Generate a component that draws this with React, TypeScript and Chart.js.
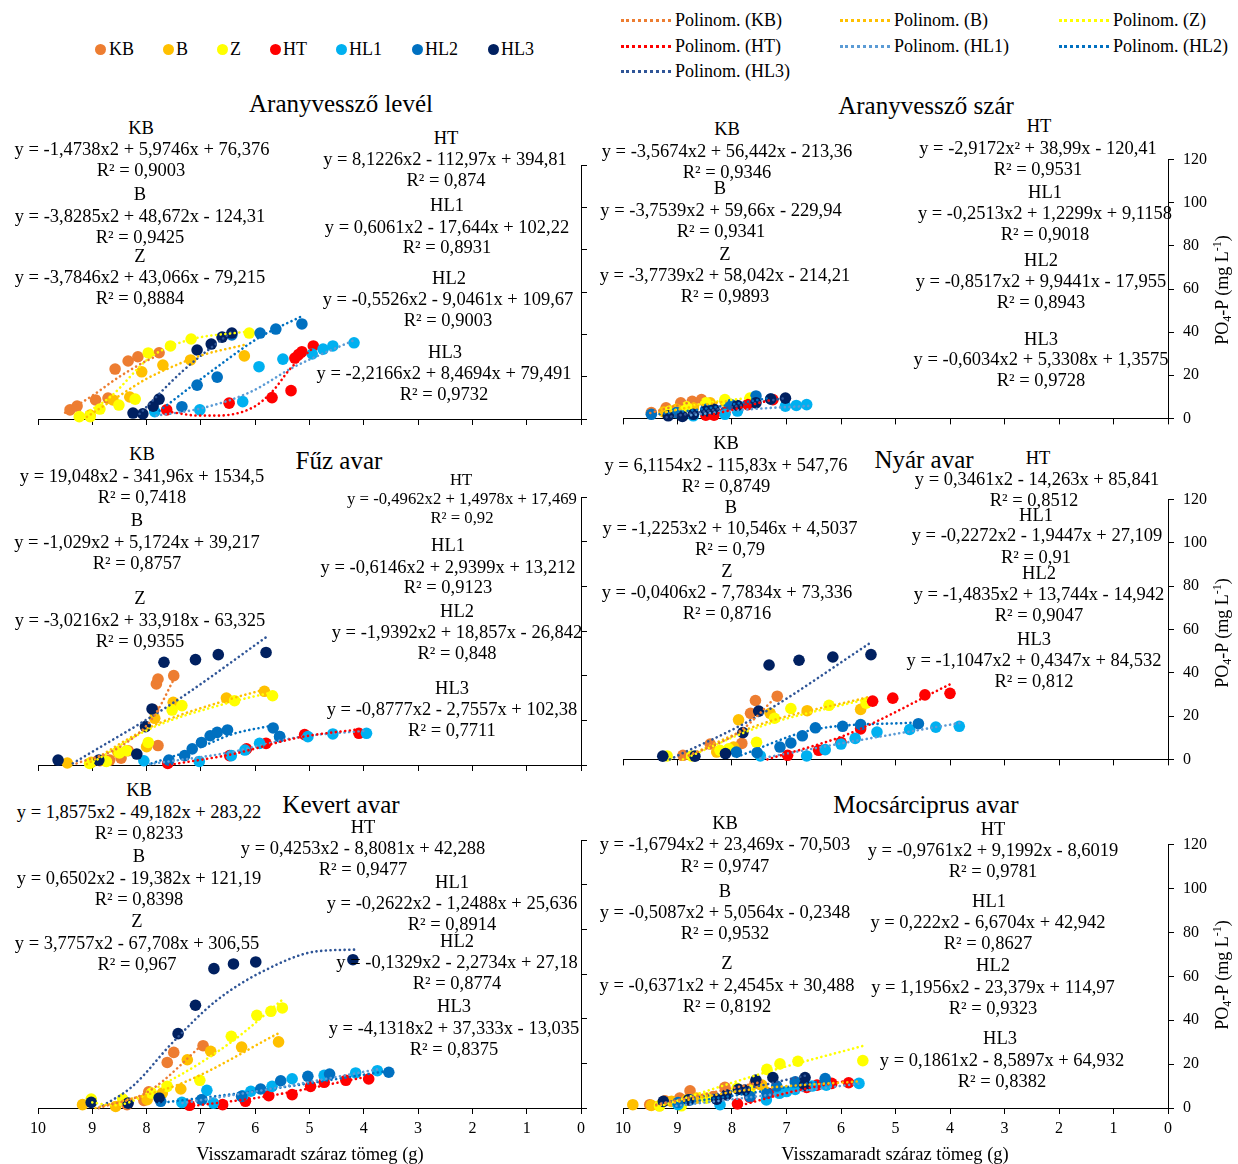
import React, { useEffect, useRef } from 'react';
import { Chart, registerables } from 'chart.js';

Chart.register(...registerables);

const FONT = "'Liberation Serif', 'Times New Roman', serif";

// ---- series ----
const SERIES = ['KB', 'B', 'Z', 'HT', 'HL1', 'HL2', 'HL3'];
const POINT_COLORS = ['#ED7D31', '#FFC000', '#FFFF00', '#FF0000', '#00B0F0', '#0070C0', '#002060'];
const TREND_COLORS = ['#ED7D31', '#FFC000', '#FFFF00', '#FF0000', '#5B9BD5', '#0070C0', '#2F5597'];

// ---- axes ----
const X_MIN = 0;
const X_MAX = 10;
const X_STEP = 1;
const Y_MIN = 0;
const Y_MAX = 120;
const Y_STEP = 20;

// ---- data: [x = remaining dry mass (g), y = PO4-P (mg/L)] per series KB,B,Z,HT,HL1,HL2,HL3 ----
const levelPts = [
  [[9.41, 4.3], [9.28, 6.1], [8.94, 9.0], [8.71, 9.9], [8.58, 23.6], [8.34, 27.4], [8.16, 29.4], [7.77, 31.3]],
  [[9.04, 1.9], [8.62, 9.0], [8.31, 10.4], [8.09, 22.3], [7.7, 25.5], [7.19, 27.9], [6.2, 29.8]],
  [[9.24, 1.1], [9.04, 1.1], [8.86, 4.7], [8.51, 6.6], [8.21, 9.4], [7.97, 31.2], [7.56, 34.5], [7.18, 37.8], [6.11, 40.6]],
  [[7.63, 4.3], [6.48, 7.5], [5.69, 10.1], [5.34, 13.4], [5.27, 28.8], [5.2, 30.5], [5.14, 31.8], [4.93, 34.5]],
  [[7.85, 3.5], [7.02, 4.3], [6.23, 8.2], [5.93, 24.7], [5.49, 28.3], [4.95, 30.7], [4.75, 33.0], [4.57, 34.5], [4.18, 36.0]],
  [[7.35, 5.8], [7.07, 16.0], [6.7, 19.8], [6.43, 39.7], [5.91, 40.6], [5.62, 42.5], [5.14, 44.9]],
  [[8.25, 2.8], [8.07, 2.4], [7.88, 6.1], [7.77, 9.4], [7.07, 32.6], [6.81, 35.4], [6.61, 38.7], [6.43, 40.6]],
];
const levelTrend = [
  [[9.5, 3], [9.0, 11], [8.5, 20], [8.0, 27.5], [7.7, 31]],
  [[9.1, 1], [8.5, 11], [8.0, 19], [7.5, 25], [7.0, 30], [6.2, 35]],
  [[9.26, 0.8], [8.68, 10.2], [7.94, 29], [7.27, 37], [6.13, 41.4]],
  [[7.7, 3.9], [7.02, 1.6], [6.71, 1.6], [6.04, 5.5], [5.67, 13.4], [5.36, 23.6], [4.96, 33]],
  [[7.82, 1.6], [7.0, 5], [6.1, 12.6], [5.3, 24.4], [4.2, 37]],
  [[7.76, 3.9], [6.71, 24.4], [5.92, 38.6], [5.12, 48.8]],
  [[8.13, 2.4], [7.33, 22.8], [6.41, 41.7]],
];

const szarPts = [
  [[9.48, 2.7], [9.21, 4.9], [8.94, 7.2], [8.73, 7.9], [8.56, 8.7]],
  [[9.25, 3], [9.02, 4.2], [8.71, 4.9], [8.4, 7.2], [8.13, 7.9]],
  [[9.14, 3.4], [8.83, 5.4], [8.48, 7.2], [8.13, 8.7], [7.67, 9.4]],
  [[8.48, 1.5], [8.33, 1.5], [8.13, 2.7], [7.71, 6.4], [7.25, 8.7]],
  [[8.71, 1.2], [8.13, 1.9], [7.9, 3.4], [7.02, 5.7], [6.82, 6], [6.63, 6.4]],
  [[9.48, 1.9], [9.02, 2.7], [8.48, 4.2], [8.02, 6.4], [7.56, 10.4], [7.29, 9]],
  [[9.17, 1.2], [8.91, 0.9], [8.71, 1.9], [8.48, 3.4], [8.33, 4.2], [7.9, 6], [7.56, 7.2], [7.29, 9], [7.02, 9.4]],
];
const szarTrend = [
  [[9.5, 2.5], [9.0, 6], [8.55, 8.7]],
  [[9.3, 2.5], [8.7, 5.5], [8.1, 8]],
  [[9.2, 3], [8.5, 7], [7.65, 9.6]],
  [[8.5, 1], [8.0, 4], [7.25, 8.8]],
  [[8.75, 1.5], [7.8, 4], [6.6, 5.8]],
  [[9.5, 1.5], [8.5, 4.5], [7.3, 9.5]],
  [[9.2, 0.5], [8.2, 4.5], [7.0, 9.5]],
];

const fuzPts = [
  [[8.86, 1.9], [8.68, 2.2], [8.47, 3.1], [8.34, 6.4], [7.79, 8.7], [7.87, 24.6], [7.82, 36.3], [7.79, 38.5], [7.5, 40]],
  [[9.46, 0.9], [9.02, 1.2], [8.77, 1.9], [8.53, 5.7], [8.0, 8.2], [7.85, 20.9], [7.51, 28.1], [6.53, 30], [5.83, 33]],
  [[9.05, 0.7], [8.74, 1.6], [8.5, 5.4], [8.37, 6.4], [7.97, 10.1], [7.53, 24.6], [7.35, 26.6], [6.38, 28.8], [5.68, 31]],
  [[7.61, 0.7], [6.47, 4.2], [6.16, 7.2], [5.8, 9.7], [5.09, 13.6], [4.09, 14.2]],
  [[8.05, 1.9], [7.03, 1.6], [6.44, 4.2], [6.19, 6.7], [5.92, 9.7], [5.55, 12.7], [5.03, 12.7], [4.57, 13.9], [3.95, 14.2]],
  [[7.59, 2.2], [7.3, 4.2], [7.16, 7.2], [6.99, 10.1], [6.83, 13.1], [6.7, 14.6], [6.51, 15.7], [5.67, 16.6], [5.55, 12.7]],
  [[9.63, 2.2], [8.88, 2.2], [8.18, 4.9], [8.02, 17.2], [7.9, 25.1], [7.68, 46], [7.1, 47.2], [6.68, 49.4], [5.8, 50.4]],
];
const fuzTrend = [
  [[9.29, 0.7], [8.5, 8], [7.88, 21.3], [7.45, 40.7]],
  [[9.1, 0.4], [7.94, 16.9], [6.53, 29], [5.8, 34]],
  [[9.05, 0.4], [7.94, 16.2], [6.5, 27.8], [5.7, 32.5]],
  [[7.57, 0.1], [6.41, 4.9], [5.18, 12.4], [4.05, 16.1]],
  [[7.94, 0.4], [6.5, 5.5], [5.2, 12.5], [3.95, 15.4]],
  [[7.91, 0.7], [7.02, 7.9], [6.41, 13.9], [5.7, 17.6]],
  [[9.36, 0.7], [7.5, 28], [5.76, 57.9]],
];

const nyarPts = [
  [[8.9, 1.9], [8.4, 7.1], [7.82, 7.4], [7.66, 21.3], [7.57, 27.2], [7.17, 29.2]],
  [[8.28, 3.4], [7.97, 5.7], [7.88, 18.3], [7.3, 21.3], [6.62, 22.5], [5.64, 23.1]],
  [[9.19, 1.6], [8.74, 1.6], [8.22, 4.2], [8.06, 4.9], [7.55, 7.9], [7.22, 19], [6.92, 23.5], [6.22, 25], [5.54, 26]],
  [[6.98, 1.9], [6.41, 4.2], [6.0, 7.9], [5.64, 14.1], [5.42, 26.9], [5.05, 28.3], [4.46, 29.8], [4.0, 30.5]],
  [[7.48, 1.6], [6.63, 1.6], [6.29, 4.5], [6.0, 7.1], [5.74, 9.7], [5.34, 12.6], [4.74, 13.8], [4.26, 14.9], [3.83, 15.3]],
  [[7.92, 3.4], [7.54, 3.1], [7.12, 5.7], [6.92, 7.6], [6.71, 10.9], [6.47, 14.6], [5.97, 15.3], [5.64, 16.1], [4.58, 16.5]],
  [[9.27, 1.5], [8.68, 1.5], [8.12, 2.7], [7.8, 12.4], [7.51, 22.3], [7.32, 43.6], [6.77, 45.8], [6.15, 47.3], [5.45, 48.4]],
];
const nyarTrend = [
  [[8.95, 0.1], [7.85, 13.1], [7.14, 30.2]],
  [[8.95, 0], [7.5, 16], [5.51, 28.7]],
  [[8.9, 0], [7.5, 15], [5.51, 28]],
  [[7.35, 0], [5.88, 11.6], [4.0, 34.7]],
  [[7.48, 0.4], [5.88, 7.9], [3.82, 16.8]],
  [[7.91, 1.2], [6.49, 13.8], [4.58, 17.1]],
  [[9.14, 0], [7.54, 19.8], [5.45, 54]],
];

const kevertPts = [
  [[8.36, 1.5], [8.05, 3.4], [7.96, 7.2], [7.62, 20.4], [7.5, 24.9], [6.96, 27.9]],
  [[9.18, 1.5], [8.57, 0.7], [7.99, 3.7], [7.71, 6.7], [7.37, 8.5], [7.25, 21.6], [6.82, 25.4], [6.25, 27.3], [5.57, 29.6]],
  [[9.02, 4], [8.44, 4], [7.91, 6.7], [7.62, 9.7], [7.02, 12.4], [6.44, 32.1], [5.97, 41.5], [5.71, 43.3], [5.5, 44.8]],
  [[7.21, 1.2], [6.6, 1.5], [6.18, 3], [5.75, 5.5], [5.32, 6], [4.98, 9.7], [4.73, 11.5], [4.33, 12.4], [3.91, 13]],
  [[7.35, 2.5], [6.98, 3.7], [6.89, 7.9], [6.77, 2.2], [6.23, 5.5], [6.08, 7.5], [5.69, 9.7], [5.32, 13.1], [4.73, 14.6], [4.15, 15.7], [3.75, 16.7]],
  [[7.74, 3], [6.99, 3.7], [6.25, 5.2], [5.9, 8.5], [5.53, 12.2], [5.03, 14.2], [4.63, 15.2], [3.54, 16]],
  [[9.02, 2.5], [8.34, 2.2], [7.77, 4.5], [7.42, 33.3], [7.1, 46], [6.76, 62.4], [6.4, 64.5], [5.99, 65.4], [4.2, 66.4]],
];
const kevertTrend = [
  [[8.88, 0], [7.96, 7.5], [6.94, 29.1]],
  [[8.94, 0], [7.34, 11.2], [5.56, 33.6]],
  [[9.0, 2.5], [8.6, 1.2], [7.65, 11.2], [6.42, 29.9], [5.46, 49.3]],
  [[7.22, 0.7], [5.8, 5.2], [3.9, 14.2]],
  [[7.34, 2.2], [5.8, 8.2], [3.71, 17.5]],
  [[7.77, 2.2], [5.8, 8.2], [3.53, 16.7]],
  [[8.88, 0], [8.26, 9.7], [7.53, 29.1], [6.73, 47.8], [5.8, 61.9], [4.88, 70.1], [4.17, 70.9]],
];

const mocsarPts = [
  [[9.51, 1.5], [9.23, 3.3], [8.96, 4.5], [8.77, 7.8], [8.34, 5.2], [8.13, 9.4], [7.58, 11.2]],
  [[9.82, 1.5], [9.48, 1.2], [9.33, 1], [9.11, 3], [8.83, 3.7], [8.65, 4.5], [7.45, 10.4]],
  [[9.33, 1], [8.93, 1], [8.47, 4.5], [7.91, 9], [7.67, 8.2], [7.36, 17.6], [7.12, 20.1], [6.79, 21.3], [5.6, 21.6]],
  [[7.9, 1.9], [7.67, 4.8], [7.33, 6.7], [6.63, 9.4], [6.44, 10.4], [6.17, 11.2], [5.86, 11.5]],
  [[8.99, 1.5], [8.22, 1.5], [7.37, 3.7], [7.13, 6.7], [7.0, 7.5], [6.84, 8.5], [6.53, 10], [6.27, 10.4], [5.67, 11.2]],
  [[8.99, 2.5], [8.77, 3.7], [8.28, 4], [7.67, 5.2], [7.36, 6.7], [7.18, 10], [6.84, 11.9], [6.29, 13.4]],
  [[9.26, 3], [8.8, 3.7], [8.28, 4], [8.1, 6], [7.88, 8.5], [7.76, 8.2], [7.56, 12.7], [7.25, 13.9], [6.67, 10.4], [6.66, 13.9]],
];
const mocsarTrend = [
  [[9.39, 1.5], [7.45, 11.9]],
  [[9.39, 1], [7.73, 8.2], [5.64, 12.2]],
  [[9.33, 0.7], [7.36, 16.4], [5.58, 28.4]],
  [[7.91, 0.7], [6.8, 8], [5.83, 12.7]],
  [[9.02, 1], [7.3, 6], [5.64, 11.2]],
  [[9.02, 1.9], [7.6, 7], [6.26, 12.7]],
  [[9.29, 2.2], [7.9, 8], [6.63, 14.9]],
];

// ---- layout (page coordinates of each plot area: left, top, right, bottom) ----
const PANELS = [
  { key: 'level', pts: levelPts, trend: levelTrend, area: [38, 165, 581, 419], showX: false, showY: false },
  { key: 'szar', pts: szarPts, trend: szarTrend, area: [623, 155, 1168, 423], showX: false, showY: true },
  { key: 'fuz', pts: fuzPts, trend: fuzTrend, area: [38, 497, 581, 765], showX: false, showY: false },
  { key: 'nyar', pts: nyarPts, trend: nyarTrend, area: [623, 495, 1168, 764], showX: false, showY: true },
  { key: 'kevert', pts: kevertPts, trend: kevertTrend, area: [38, 840, 581, 1108], showX: true, showY: false },
  { key: 'mocsar', pts: mocsarPts, trend: mocsarTrend, area: [623, 840, 1168, 1108], showX: true, showY: true },
];

// ---- text annotations: [text, centerX, centerY, fontSize?] ----
const TEXTS: [string, number, number, number?][] = [
  ['Aranyvessző levél', 341, 103, 25],
  ['KB', 141, 128], ['y = -1,4738x2 + 5,9746x + 76,376', 142, 149], ['R² = 0,9003', 141, 170],
  ['B', 140, 194], ['y = -3,8285x2 + 48,672x - 124,31', 140, 216], ['R² = 0,9425', 140, 237],
  ['Z', 140, 256], ['y = -3,7846x2 + 43,066x - 79,215', 140, 277], ['R² = 0,8884', 140, 298],
  ['HT', 446, 138], ['y = 8,1226x2 - 112,97x + 394,81', 445, 159], ['R² = 0,874', 446, 180],
  ['HL1', 447, 205], ['y = 0,6061x2 - 17,644x + 102,22', 447, 227], ['R² = 0,8931', 447, 247],
  ['HL2', 449, 278], ['y = -0,5526x2 - 9,0461x + 109,67', 448, 299], ['R² = 0,9003', 448, 320],
  ['HL3', 445, 352], ['y = -2,2166x2 + 8,4694x + 79,491', 444, 373], ['R² = 0,9732', 444, 394],

  ['Aranyvessző szár', 926, 105, 25],
  ['KB', 727, 129], ['y = -3,5674x2 + 56,442x - 213,36', 727, 151], ['R² = 0,9346', 727, 172],
  ['B', 720, 188], ['y = -3,7539x2 + 59,66x - 229,94', 721, 210], ['R² = 0,9341', 721, 231],
  ['Z', 725, 254], ['y = -3,7739x2 + 58,042x - 214,21', 725, 275], ['R² = 0,9893', 725, 296],
  ['HT', 1039, 126], ['y = -2,9172x² + 38,99x - 120,41', 1038, 148], ['R² = 0,9531', 1038, 169],
  ['HL1', 1045, 192], ['y = -0,2513x2 + 1,2299x + 9,1158', 1045, 213], ['R² = 0,9018', 1045, 234],
  ['HL2', 1041, 260], ['y = -0,8517x2 + 9,9441x - 17,955', 1041, 281], ['R² = 0,8943', 1041, 302],
  ['HL3', 1041, 339], ['y = -0,6034x2 + 5,3308x + 1,3575', 1041, 359], ['R² = 0,9728', 1041, 380],

  ['Fűz avar', 339, 460, 25],
  ['KB', 142, 454], ['y = 19,048x2 - 341,96x + 1534,5', 142, 476], ['R² = 0,7418', 142, 497],
  ['B', 137, 520], ['y = -1,029x2 + 5,1724x + 39,217', 137, 542], ['R² = 0,8757', 137, 563],
  ['Z', 140, 598], ['y = -3,0216x2 + 33,918x - 63,325', 140, 620], ['R² = 0,9355', 140, 641],
  ['HT', 461, 480, 16.7], ['y = -0,4962x2 + 1,4978x + 17,469', 462, 499, 16.7], ['R² = 0,92', 462, 518, 16.7],
  ['HL1', 448, 545], ['y = -0,6146x2 + 2,9399x + 13,212', 448, 567], ['R² = 0,9123', 448, 587],
  ['HL2', 457, 611], ['y = -1,9392x2 + 18,857x - 26,842', 457, 632], ['R² = 0,848', 457, 653],
  ['HL3', 452, 688], ['y = -0,8777x2 - 2,7557x + 102,38', 452, 709], ['R² = 0,7711', 452, 730],

  ['Nyár avar', 924, 459, 25],
  ['KB', 726, 443], ['y = 6,1154x2 - 115,83x + 547,76', 726, 465], ['R² = 0,8749', 726, 486],
  ['B', 731, 507], ['y = -1,2253x2 + 10,546x + 4,5037', 730, 528], ['R² = 0,79', 730, 549],
  ['Z', 727, 571], ['y = -0,0406x2 - 7,7834x + 73,336', 727, 592], ['R² = 0,8716', 727, 613],
  ['HT', 1038, 458], ['y = 0,3461x2 - 14,263x + 85,841', 1037, 479], ['R² = 0,8512', 1034, 500],
  ['HL1', 1036, 515], ['y = -0,2272x2 - 1,9447x + 27,109', 1037, 535], ['R² = 0,91', 1036, 557],
  ['HL2', 1039, 573], ['y = -1,4835x2 + 13,744x - 14,942', 1039, 594], ['R² = 0,9047', 1039, 615],
  ['HL3', 1034, 639], ['y = -1,1047x2 + 0,4347x + 84,532', 1034, 660], ['R² = 0,812', 1034, 681],

  ['Kevert avar', 341, 804, 25],
  ['KB', 139, 790], ['y = 1,8575x2 - 49,182x + 283,22', 139, 812], ['R² = 0,8233', 139, 833],
  ['B', 139, 856], ['y = 0,6502x2 - 19,382x + 121,19', 139, 878], ['R² = 0,8398', 139, 899],
  ['Z', 137, 921], ['y = 3,7757x2 - 67,708x + 306,55', 137, 943], ['R² = 0,967', 137, 964],
  ['HT', 363, 827], ['y = 0,4253x2 - 8,8081x + 42,288', 363, 848], ['R² = 0,9477', 363, 869],
  ['HL1', 452, 882], ['y = -0,2622x2 - 1,2488x + 25,636', 452, 903], ['R² = 0,8914', 452, 924],
  ['HL2', 457, 941], ['y = -0,1329x2 - 2,2734x + 27,18', 457, 962], ['R² = 0,8774', 457, 983],
  ['HL3', 454, 1006], ['y = -4,1318x2 + 37,333x - 13,035', 454, 1028], ['R² = 0,8375', 454, 1049],

  ['Mocsárciprus avar', 926, 804, 25],
  ['KB', 725, 823], ['y = -1,6794x2 + 23,469x - 70,503', 725, 844], ['R² = 0,9747', 725, 866],
  ['B', 725, 891], ['y = -0,5087x2 + 5,0564x - 0,2348', 725, 912], ['R² = 0,9532', 725, 933],
  ['Z', 727, 963], ['y = -0,6371x2 + 2,4545x + 30,488', 727, 985], ['R² = 0,8192', 727, 1006],
  ['HT', 993, 829], ['y = -0,9761x2 + 9,1992x - 8,6019', 993, 850], ['R² = 0,9781', 993, 871],
  ['HL1', 989, 901], ['y = 0,222x2 - 6,6704x + 42,942', 988, 922], ['R² = 0,8627', 988, 943],
  ['HL2', 993, 965], ['y = 1,1956x2 - 23,379x + 114,97', 993, 987], ['R² = 0,9323', 993, 1008],
  ['HL3', 1000, 1038], ['y = 0,1861x2 - 8,5897x + 64,932', 1002, 1060], ['R² = 0,8382', 1002, 1081],

  ['Visszamaradt száraz tömeg (g)', 310, 1154],
  ['Visszamaradt száraz tömeg (g)', 895, 1154],
];

const Y_TITLE_POS = [[1222, 290], [1222, 633], [1222, 975]];

// legend layout: marker legend (dot centre x, text left x), trend legend (line left x, text left x, row y)
const MARKER_LEGEND_POS = [[100, 109], [168, 176], [222, 230], [275, 283], [341, 349], [417, 425], [493, 501]];
const TREND_LEGEND_POS = [
  [621, 675, 20], [840, 894, 20], [1059, 1113, 20],
  [621, 675, 46], [840, 894, 46], [1059, 1113, 46],
  [621, 675, 71],
];

const PAD = 14;

function Panel({ cfg }: { cfg: any }) {
  const ref = useRef<HTMLCanvasElement>(null);
  const [L, T, R, B] = cfg.area;
  const rightExtra = cfg.showY ? 60 : 14;
  const bottomExtra = cfg.showX ? 36 : 14;
  const w = PAD + (R - L) + rightExtra;
  const h = PAD + (B - T) + bottomExtra;

  useEffect(() => {
    const trendSets = cfg.trend.map((arr: number[][], i: number) => ({
      type: 'line',
      label: 'Polinom. (' + SERIES[i] + ')',
      data: arr.map(([x, y]) => ({ x, y })),
      borderColor: TREND_COLORS[i],
      backgroundColor: TREND_COLORS[i],
      borderWidth: 2.6,
      borderDash: [0.1, 4.6],
      borderCapStyle: 'round',
      pointRadius: 0,
      fill: false,
      showLine: true,
      cubicInterpolationMode: 'monotone',
      order: 0,
      clip: false,
    }));
    const pointSets = cfg.pts.map((arr: number[][], i: number) => ({
      type: 'scatter',
      label: SERIES[i],
      data: arr.map(([x, y]) => ({ x, y })),
      backgroundColor: POINT_COLORS[i],
      borderColor: POINT_COLORS[i],
      borderWidth: 0,
      pointRadius: 5.8,
      showLine: false,
      order: 10 - i,
      clip: false,
    }));
    const axisFont = { family: FONT, size: 16 };
    const chart = new Chart(ref.current as HTMLCanvasElement, {
      type: 'scatter',
      data: { datasets: [...trendSets, ...pointSets] as any },
      options: {
        responsive: false,
        animation: false,
        devicePixelRatio: 1,
        events: [],
        layout: { padding: { left: PAD, top: PAD, right: 0, bottom: 0 } },
        plugins: { legend: { display: false }, tooltip: { enabled: false } },
        scales: {
          x: {
            type: 'linear',
            min: X_MIN,
            max: X_MAX,
            reverse: true,
            ticks: {
              stepSize: X_STEP,
              display: cfg.showX,
              autoSkip: false,
              maxRotation: 0,
              padding: 5,
              color: '#000',
              font: axisFont,
            },
            grid: { drawOnChartArea: false, drawTicks: true, tickLength: 6, color: '#000', lineWidth: 1 },
            border: { display: true, color: '#000', width: 1 },
            afterFit: (s: any) => { s.height = bottomExtra; },
          },
          y: {
            type: 'linear',
            position: 'right',
            min: Y_MIN,
            max: Y_MAX,
            ticks: {
              stepSize: Y_STEP,
              display: cfg.showY,
              padding: 9,
              color: '#000',
              font: axisFont,
            },
            grid: { drawOnChartArea: false, drawTicks: true, tickLength: 6, color: '#000', lineWidth: 1 },
            border: { display: true, color: '#000', width: 1 },
            afterFit: (s: any) => { s.width = rightExtra; },
          },
        },
      } as any,
    });
    return () => chart.destroy();
  }, []);

  return (
    <canvas
      ref={ref}
      width={w}
      height={h}
      style={{ position: 'absolute', left: L - PAD, top: T - PAD, width: w, height: h }}
    />
  );
}

export default function App() {
  const base: React.CSSProperties = {
    position: 'absolute',
    fontFamily: FONT,
    color: '#000',
    whiteSpace: 'nowrap',
    lineHeight: 1,
  };
  return (
    <div style={{ position: 'absolute', left: 0, top: 0, width: 1238, height: 1164, background: '#fff', overflow: 'hidden', fontFamily: FONT }}>
      {PANELS.map((p) => (
        <Panel key={p.key} cfg={p} />
      ))}

      {TEXTS.map(([t, x, y, s], i) => (
        <div key={'t' + i} style={{ ...base, left: x, top: y, fontSize: s || 18.5, transform: 'translate(-50%, -50%)' }}>
          {t}
        </div>
      ))}

      {Y_TITLE_POS.map(([x, y], i) => (
        <div key={'yt' + i} style={{ ...base, left: x, top: y, fontSize: 18, transform: 'translate(-50%, -50%) rotate(-90deg)' }}>
          PO<sub style={{ fontSize: 12, lineHeight: 0, verticalAlign: -3 }}>4</sub>-P (mg L<sup style={{ fontSize: 12, lineHeight: 0, verticalAlign: 7 }}>-1</sup>)
        </div>
      ))}

      {SERIES.map((s, i) => (
        <React.Fragment key={'lm' + i}>
          <div style={{ position: 'absolute', left: MARKER_LEGEND_POS[i][0] - 5.5, top: 49 - 5.5, width: 11, height: 11, borderRadius: '50%', background: POINT_COLORS[i] }} />
          <div style={{ ...base, left: MARKER_LEGEND_POS[i][1], top: 49, fontSize: 18, transform: 'translateY(-50%)' }}>{s}</div>
        </React.Fragment>
      ))}

      {SERIES.map((s, i) => (
        <React.Fragment key={'lt' + i}>
          <div style={{ position: 'absolute', left: TREND_LEGEND_POS[i][0], top: TREND_LEGEND_POS[i][2] - 1.5, width: 50, height: 0, borderTop: '3px dotted ' + TREND_COLORS[i] }} />
          <div style={{ ...base, left: TREND_LEGEND_POS[i][1], top: TREND_LEGEND_POS[i][2], fontSize: 18, transform: 'translateY(-50%)' }}>{'Polinom. (' + s + ')'}</div>
        </React.Fragment>
      ))}
    </div>
  );
}
